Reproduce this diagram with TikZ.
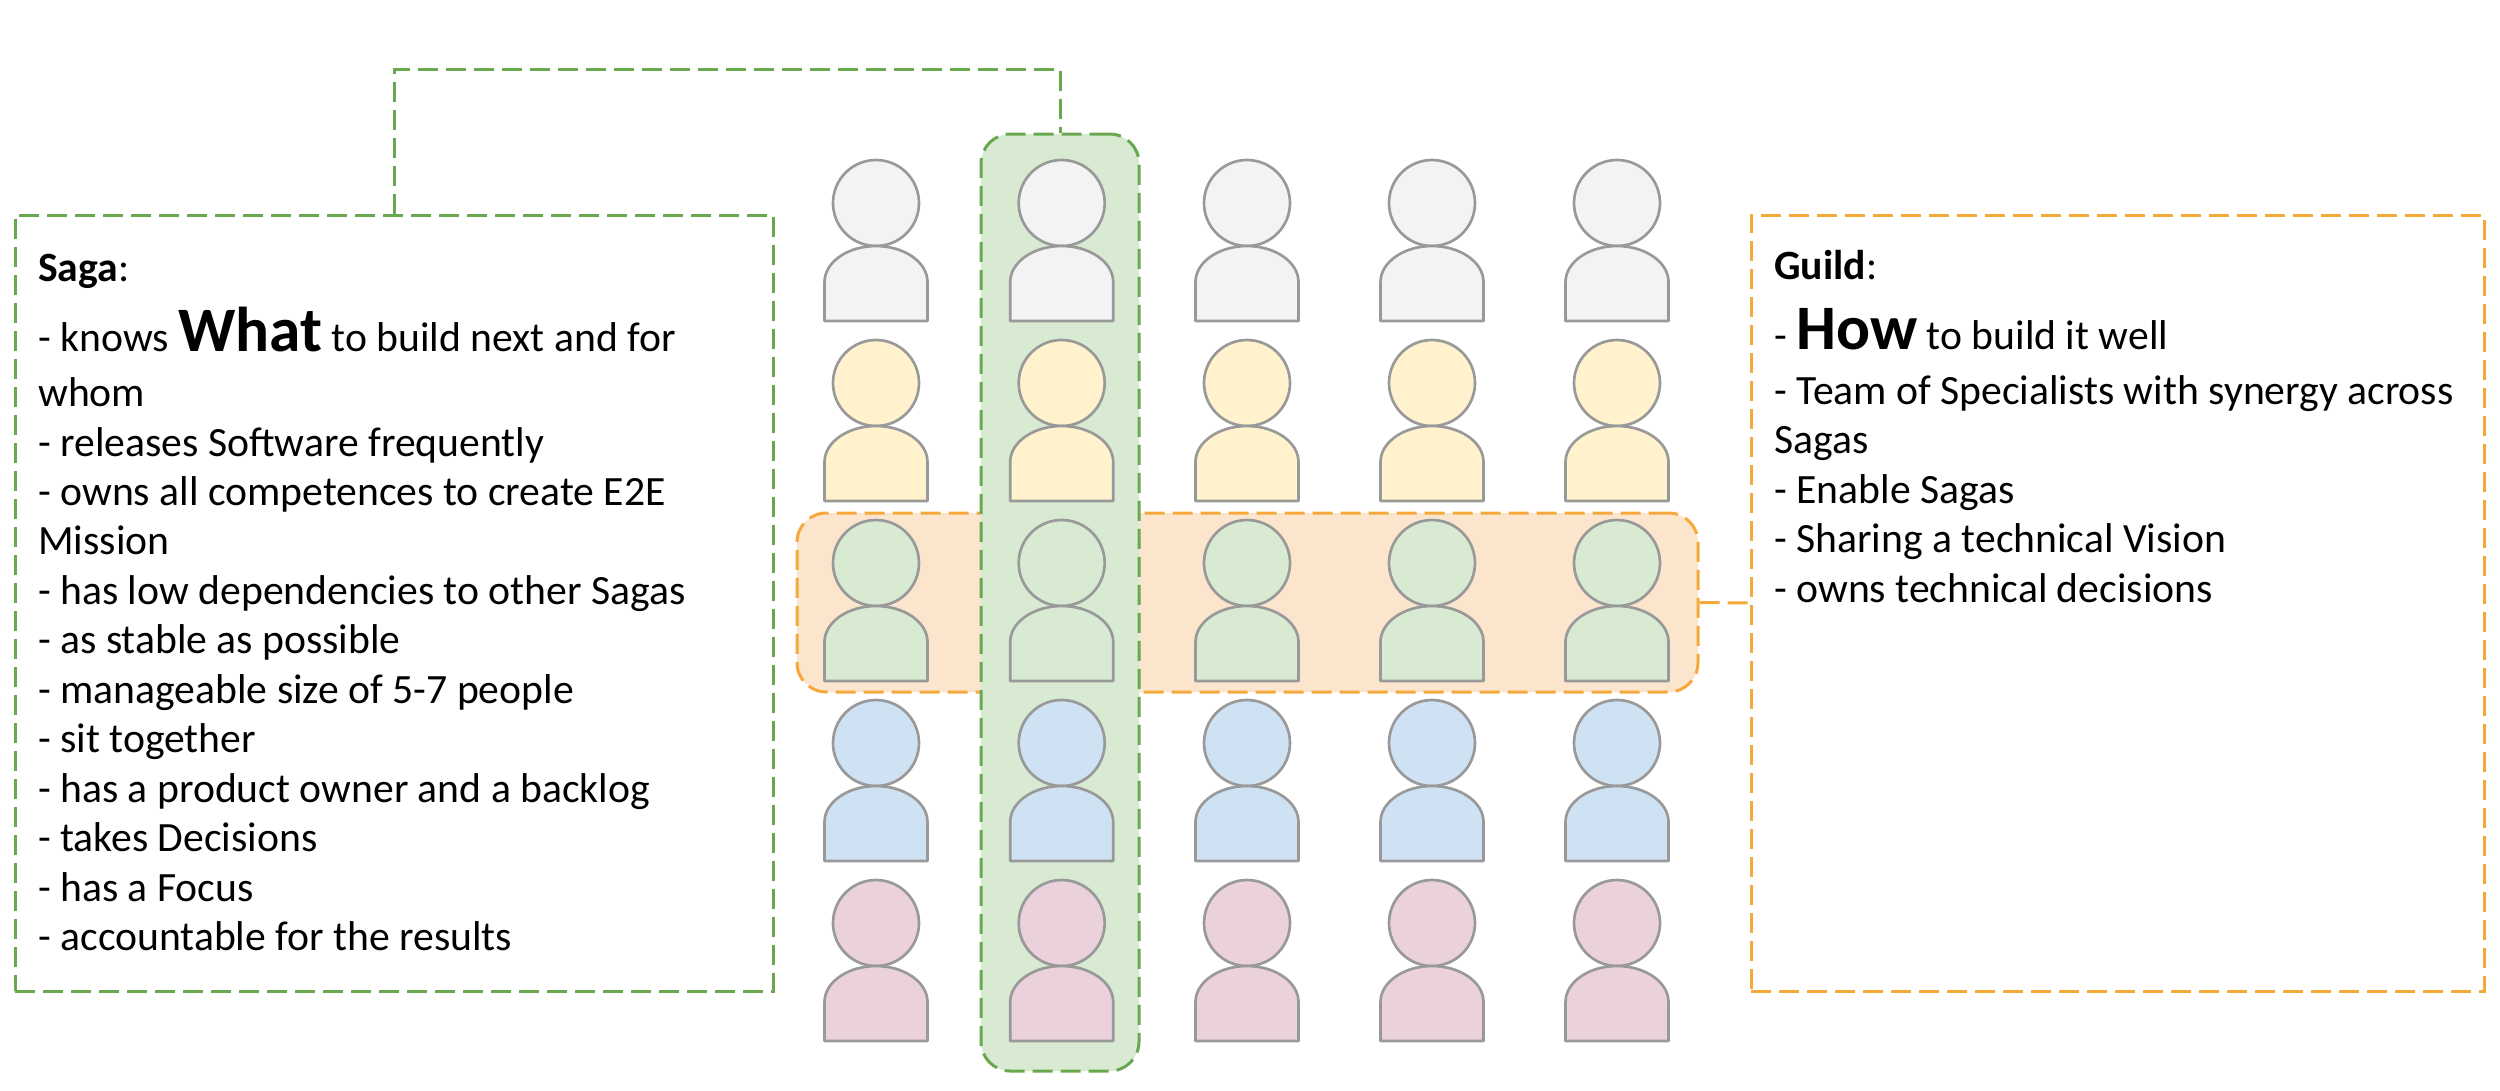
\documentclass[tikz,border=0pt]{standalone}
\usepackage{fontspec}
\setmainfont{Carlito}
\definecolor{dgreen}{HTML}{6AA84F}
\definecolor{dorange}{HTML}{F6A93B}
\definecolor{rowfill}{HTML}{FCE5CD}
\definecolor{colfill}{HTML}{D9EAD3}
\definecolor{pgray}{HTML}{F3F3F3}
\definecolor{pyellow}{HTML}{FFF2CC}
\definecolor{pgreen}{HTML}{D9EAD3}
\definecolor{pblue}{HTML}{CFE2F3}
\definecolor{ppink}{HTML}{EAD1DC}
\definecolor{pline}{HTML}{999999}
\tikzset{
  dashline/.style={line width=2.25pt,dash pattern=on 15pt off 6pt},
  infobox/.style={dashline,rectangle,minimum width=#1,minimum height=582pt,inner sep=0pt},
  band/.style={dashline,rectangle,rounded corners=22pt,inner sep=0pt},
  infotext/.style={anchor=north west,align=left,inner sep=0pt,text=black,
    font=\fontsize{31.25}{37.1}\selectfont},
  personline/.style={line width=2pt,draw=pline,line join=round},
}
\newcommand{\bigword}[1]{\smash{\fontsize{47.5}{50}\selectfont\bfseries #1}}
\newcommand{\drawperson}[3]{%
  \filldraw[personline,fill=#3] (#1,#2) circle[radius=43];
  \filldraw[personline,fill=#3] ({#1-51.5},{#2+118}) -- ({#1-51.5},{#2+79})
    .. controls ({#1-51.5},{#2+59}) and ({#1-28},{#2+43}) .. (#1,{#2+43})
    .. controls ({#1+28},{#2+43}) and ({#1+51.5},{#2+59}) .. ({#1+51.5},{#2+79})
    -- ({#1+51.5},{#2+118}) -- cycle;}
\begin{document}
\begin{tikzpicture}[x=0.75pt,y=-0.75pt]
\useasboundingbox (0,0) rectangle (2500,1090);
\node[band,draw=dorange,fill=rowfill,minimum width=675.75pt,minimum height=134.25pt] (guildrow) at (1247.5,602.5) {};
\node[band,draw=dgreen,fill=colfill,minimum width=118.5pt,minimum height=702.75pt] (sagacol) at (1060,602.5) {};
\foreach \cx in {876,1061.7,1247,1432,1617}{
  \drawperson{\cx}{203}{pgray}
  \drawperson{\cx}{383}{pyellow}
  \drawperson{\cx}{563}{pgreen}
  \drawperson{\cx}{743}{pblue}
  \drawperson{\cx}{923}{ppink}
}
\node[infobox=568.5pt,draw=dgreen] (saga) at (394,603) {};
\node[infobox=549.75pt,draw=dorange] (guild) at (2117.5,603) {};
\coordinate (sagatop) at (700,69);
\draw[dashline,draw=dgreen] (saga.north) |- (sagatop) -| (sagacol.north);
\draw[dashline,draw=dorange] (guildrow.east) -- (guild.west);
\node[infotext] (sagatext) at (38,254) {%
  \textbf{Saga}:\\[15.4pt]
  - knows \bigword{What} to build next and for\\[4.1pt]
  whom\\
  - releases Software frequently\\
  - owns all competences to create E2E\\
  Mission\\
  - has low dependencies to other Sagas\\
  - as stable as possible\\
  - manageable size of 5-7 people\\
  - sit together\\
  - has a product owner and a backlog\\
  - takes Decisions\\
  - has a Focus\\
  - accountable for the results};
\node[infotext] (guildtext) at (1774,250) {%
  \textbf{Guild}:\\[15.4pt]
  - \bigword{How} to build it well\\[4.1pt]
  - Team of Specialists with synergy across\\
  Sagas\\
  - Enable Sagas\\
  - Sharing a technical Vision\\
  - owns technical decisions};
\end{tikzpicture}
\end{document}
